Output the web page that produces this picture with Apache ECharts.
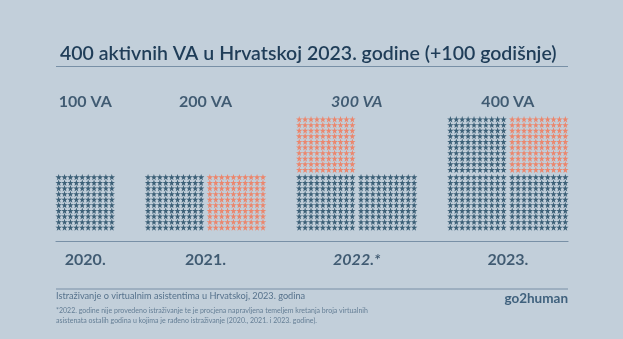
<!DOCTYPE html>
<html><head><meta charset="utf-8">
<script src="https://cdn.jsdelivr.net/npm/echarts@6/dist/echarts.min.js"></script>
<style>html,body{margin:0;padding:0;background:#c2cfda;}#c{width:623px;height:339px;}</style>
</head><body><div id="c"></div>
<script>
// ---- data ----
const years = ['2020.', '2021.', '2022.*', '2023.'];
const vaLabels = ['100 VA', '200 VA', '300 VA', '400 VA'];
const existingVA = [100, 100, 200, 300];   // dark stars
const addedVA = [0, 100, 100, 100];        // orange stars (new)
const estimated = [false, false, true, false];
const titleText = '400 aktivnih VA u Hrvatskoj 2023. godine (+100 godišnje)';
const sourceText = 'Istraživanje o virtualnim asistentima u Hrvatskoj, 2023. godina';
const noteLines = ['*2022. godine nije provedeno istraživanje te je procjena napravljena temeljem kretanja broja virtualnih',
                   'asistenata ostalih godina u kojima je rađeno istraživanje (2020., 2021. i 2023. godine).'];
const brand = 'go2human';

// ---- layout constants (star units) ----
const PER_BLOCK = 100, COLS = 10;
const BLOCK_STEP_X = 10.47, BLOCK_STEP_Y = 10.32, GROUP_GAP = 6.14;
const FONT = 'Lato, "Open Sans", sans-serif';
const DARK = '#1a435e', ORANGE = '#f67350', TEXT = '#1f3d58';
const STAR = 'path://M50,0 L61.8,35.1 L98.9,35.1 L68.8,56.7 L79.4,90.9 L50,69.8 L20.6,90.9 L31.2,56.7 L1.1,35.1 L38.2,35.1 Z';

const darkPts = [], orangePts = [], groupCenters = [];
let cursor = 0, maxX = 0, maxY = 0;
years.forEach((y, i) => {
  const total = existingVA[i] + addedVA[i];
  const nBlocks = Math.ceil(total / PER_BLOCK);
  const gCols = Math.min(2, nBlocks);
  for (let v = 0; v < total; v++) {
    const k = Math.floor(v / PER_BLOCK), s = v % PER_BLOCK;
    const x = cursor + (k % 2) * BLOCK_STEP_X + (s % COLS);
    const yy = Math.floor(k / 2) * BLOCK_STEP_Y + Math.floor(s / COLS);
    (v < existingVA[i] ? darkPts : orangePts).push([x, yy]);
    maxX = Math.max(maxX, x); maxY = Math.max(maxY, yy);
  }
  const width = (gCols - 1) * BLOCK_STEP_X + (COLS - 1);
  groupCenters.push(cursor + width / 2);
  cursor += width + GROUP_GAP;
});

const topLabelData = vaLabels.map((t, i) => ({ value: [groupCenters[i], 22.4], name: t, italic: estimated[i] }));
const yearLabelData = years.map((t, i) => ({ value: [groupCenters[i], -5.75], name: t, italic: estimated[i] }));

function labelSeries(data) {
  return {
    type: 'scatter', symbolSize: 0, clip: false, silent: true,
    data: data.map(d => ({ value: d.value, name: d.name,
      label: { fontStyle: d.italic ? 'italic' : 'normal' } })),
    label: { show: true, position: 'inside', formatter: p => p.name,
      color: TEXT, fontSize: 16, fontWeight: 'bold', fontFamily: FONT }
  };
}

const chart = echarts.init(document.getElementById('c'), null, { renderer: 'canvas' });
chart.setOption({
  backgroundColor: '#c2cfda',
  animation: false,
  title: { text: titleText, left: 55, top: 39,
    textStyle: { color: TEXT, fontSize: 19.5, fontWeight: 600, fontFamily: FONT } },
  grid: { left: 56, right: 55, top: 116.5, bottom: 109 },
  xAxis: { type: 'value', min: -0.45, max: maxX + 0.45, offset: 11,
    axisLine: { show: true, onZero: false, lineStyle: { color: '#7890a6', width: 1.2 } },
    axisTick: { show: false }, axisLabel: { show: false }, splitLine: { show: false } },
  yAxis: { type: 'value', min: -0.45, max: maxY + 0.5, show: false },
  series: [
    { type: 'scatter', data: darkPts, symbol: STAR, symbolSize: 6.4,
      itemStyle: { color: DARK }, silent: true },
    { type: 'scatter', data: orangePts, symbol: STAR, symbolSize: 6.4,
      itemStyle: { color: ORANGE }, silent: true },
    labelSeries(topLabelData),
    labelSeries(yearLabelData)
  ],
  graphic: [
    { type: 'line', shape: { x1: 56, y1: 66.5, x2: 568, y2: 66.5 },
      style: { stroke: '#7890a6', lineWidth: 1.2 } },
    { type: 'line', shape: { x1: 56, y1: 289, x2: 568, y2: 289 },
      style: { stroke: '#7890a6', lineWidth: 1.2 } },
    { type: 'text', left: 56, top: 292,
      style: { text: sourceText, fill: '#56728c', fontSize: 9.2, fontFamily: FONT } },
    { type: 'text', left: 56, top: 306,
      style: { text: noteLines.join('\n'), fill: '#647e95', fontSize: 7, lineHeight: 9.6, fontFamily: FONT } },
    { type: 'text', right: 55, top: 292,
      style: { text: brand, fill: '#3f617d', fontSize: 13.5, fontWeight: 'bold', fontFamily: FONT } }
  ]
});
</script></body></html>
